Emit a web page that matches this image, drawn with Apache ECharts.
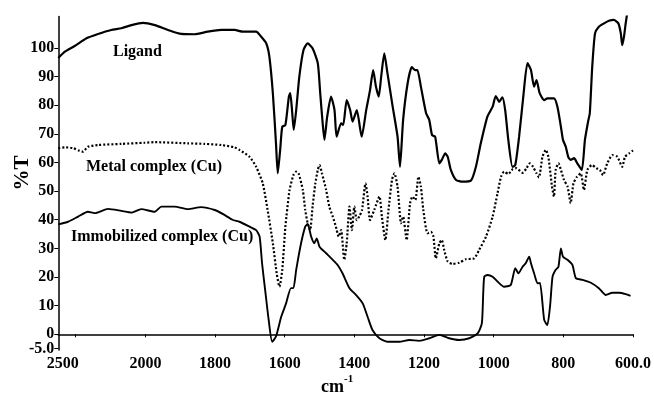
<!DOCTYPE html>
<html><head><meta charset="utf-8">
<script src="https://cdn.jsdelivr.net/npm/echarts@6/dist/echarts.min.js"></script>
<style>html,body{margin:0;padding:0;background:#fff}#c{width:654px;height:399px}</style>
</head><body><div id="c"></div>
<script>
// wavenumber (cm-1, position on the drawn linear scale), %T
const ligand = [[2250,96.5],[2231,98.7],[2203,100.7],[2169,103.4],[2136,104.9],[2098,106.3],[2069,106.9],[2040,108.0],[2007,108.8],[1973,108.0],[1935,106.3],[1897,104.9],[1859,104.8],[1821,105.7],[1782,106.3],[1744,106.3],[1720,105.7],[1682,105.7],[1668,104],[1653,101.6],[1644,97],[1634,84.2],[1625,66.7],[1620,56.2],[1613,64.4],[1607,72.5],[1598,73.1],[1588,83],[1584,84.2],[1579,78.3],[1574,71.4],[1567,78.3],[1558,90],[1546,99.3],[1534,101.6],[1520,99.9],[1505,94.7],[1498,84.2],[1491,73.7],[1486,67.9],[1478,76],[1467,83],[1457,78.3],[1451,69],[1438,73.7],[1432,73.1],[1422,81.8],[1412,78.3],[1405,74.3],[1393,78.3],[1379,69],[1366,78.3],[1355,85.3],[1346,92.3],[1338,86.5],[1330,83],[1323,90],[1314,98.1],[1305,91.2],[1290,79.5],[1276,69],[1269,58.5],[1260,74.9],[1247,87.7],[1235,93.3],[1225,92.3],[1219,92.3],[1209,86.5],[1194,77.2],[1185,74.9],[1177,69.6],[1168,69],[1156,59.7],[1149,60.9],[1139,63.2],[1132,62],[1123,57.4],[1108,53.9],[1089,53.3],[1065,53.7],[1051,58.5],[1037,66.7],[1018,76],[1003,79.5],[994,83.2],[984,81.2],[975,82.8],[967,78.3],[958,67.9],[946,58.5],[938,59.1],[927,69],[915,83],[903,94.7],[893,92.3],[884,86.5],[877,88.8],[868,84.2],[855,81.8],[846,82.4],[827,82.4],[817,79.5],[807,72.5],[801,67.9],[793,65.5],[786,62],[779,60.9],[769,61.5],[760,59.7],[747,57.4],[738,67.9],[728,74.9],[724,77.2],[717,93.5],[709,105.1],[698,107.4],[683,108.6],[669,109.5],[655,109.8],[642,108.6],[635,105.1],[631,101],[626,103.9],[621,108.6],[616,112.7]];

const metalComplex = [[2250,65],[2231,65.3],[2207,65],[2189,64.1],[2179,63.8],[2165,65.5],[2136,66.1],[2069,66.5],[2002,66.9],[1973,67.1],[1878,66.7],[1830,66.5],[1782,66.1],[1744,65.3],[1730,64.4],[1701,62],[1682,58.5],[1663,52.7],[1649,43.4],[1634,31.8],[1623,21.3],[1615,16.6],[1607,22.5],[1598,37.6],[1586,50.4],[1575,55.6],[1567,56.8],[1560,56.2],[1548,50.4],[1541,43.4],[1534,38.8],[1527,36.4],[1520,44.6],[1512,52.7],[1505,57.4],[1500,59.1],[1493,56.2],[1481,50.4],[1472,44.6],[1462,41.1],[1453,37.6],[1445,34.1],[1438,36.4],[1429,26],[1422,31.8],[1414,44.6],[1407,36.4],[1400,44.6],[1393,39.9],[1386,41.1],[1378,43.4],[1368,52.7],[1362,48.1],[1355,39.9],[1343,43.4],[1328,48.1],[1321,41.1],[1311,32.9],[1302,43.4],[1292,53.9],[1285,56.2],[1276,51.6],[1266,38.8],[1260,41.1],[1250,32.9],[1240,45.8],[1233,48.1],[1225,46.9],[1216,55],[1209,51.6],[1202,43.4],[1190,35.3],[1180,35.8],[1173,34.1],[1166,26.5],[1156,31.8],[1149,32.9],[1142,29.4],[1132,25.4],[1118,24.6],[1099,25],[1080,26.2],[1056,26.5],[1042,29.4],[1022,34.1],[1003,41.1],[989,49.2],[979,55],[970,56.8],[958,56],[946,57.6],[935,58],[917,56.4],[906,58],[896,59.7],[887,58.5],[877,56.2],[870,54.8],[860,62],[850,64.4],[843,62],[833,52],[827,48.1],[822,57.4],[814,59.7],[807,57.4],[798,53.9],[788,51.6],[779,45.8],[771,52.7],[761,55],[750,56.2],[741,50.4],[731,57.4],[718,59.1],[705,58],[695,57.4],[686,55.6],[674,59.7],[659,62.6],[645,62],[631,58.5],[623,62],[611,63.2],[600,64.2]];

const immobilized = [[2250,38.4],[2222,39.3],[2193,41.1],[2165,42.8],[2146,42.3],[2107,43.8],[2069,43.1],[2040,42.5],[2012,43.7],[1973,42.8],[1954,44.6],[1916,44.6],[1878,43.7],[1840,44.4],[1801,43.4],[1773,41.7],[1750,40],[1730,39.3],[1701,37.6],[1682,36.4],[1672,34.1],[1665,24.8],[1655,14.3],[1646,5],[1636,-2.6],[1625,-0.8],[1610,6.1],[1596,10.8],[1582,16.1],[1575,16.1],[1567,22.5],[1553,31.8],[1541,37.6],[1534,38.5],[1524,34.1],[1515,31.8],[1508,33.5],[1500,30.6],[1481,28.3],[1462,26],[1448,24.2],[1434,21.3],[1414,16.1],[1395,13.7],[1376,10.8],[1362,6.1],[1348,1.5],[1328,-1.4],[1305,-2.6],[1271,-2.6],[1242,-2],[1214,-2.3],[1185,-1.4],[1156,-0.2],[1128,-1.4],[1099,-2],[1070,-1.4],[1046,0.3],[1034,3.8],[1030,14.3],[1027,20.1],[1018,20.7],[1003,20.1],[989,18.4],[970,16.6],[951,17.2],[938,23.1],[929,21.3],[917,23.6],[908,24.8],[898,27.1],[893,24.8],[884,21.3],[874,17.8],[867,17.9],[855,5],[846,3.2],[838,10],[831,20.1],[822,22.5],[814,23.6],[807,30],[801,27.1],[788,26],[774,24.2],[764,19.6],[745,19],[721,18],[698,16.1],[678,13.7],[659,14.5],[640,14.5],[621,14],[607,13.4]];

const xTickValues = [2200, 2000, 1800, 1600, 1400, 1200, 1000, 800, 600];
const xLabelValues = [2237, 2000, 1800, 1600, 1400, 1200, 1000, 800, 600];
const xLabelTexts  = ['2500', '2000', '1800', '1600', '1400', '1200', '1000', '800', '600.0'];
const yTickValues = [-5, 0, 10, 20, 30, 40, 50, 60, 70, 80, 90, 100];
const yLabelValues = [0, 10, 20, 30, 40, 50, 60, 70, 80, 90, 100];
const yMinLabelValues = [-5];
const yMinLabelTexts = ['-5.0'];

const FONT = '"Liberation Serif", "Times New Roman", serif';
const Y_MIN = -5.5, Y_MAX = 111;
const chart = echarts.init(document.getElementById('c'), null, {renderer: 'canvas'});
const axisText = {color: '#000', fontFamily: FONT, fontWeight: 'bold', fontSize: 16, hideOverlap: false};

chart.setOption({
  animation: false,
  backgroundColor: '#fff',
  grid: {left: 58.3, right: 20, top: 16.5, bottom: 49},
  xAxis: {
    type: 'value', inverse: true, min: 600, max: 2250,
    axisLine: {lineStyle: {color: '#000', width: 1.5}},
    axisTick: {show: true, length: 3, customValues: xTickValues, lineStyle: {color: '#000', width: 1}},
    axisLabel: Object.assign({}, axisText, {
      margin: 6, customValues: xLabelValues, showMinLabel: true, showMaxLabel: true,
      formatter: v => { const i = xLabelValues.indexOf(v); return i >= 0 ? xLabelTexts[i] : ''; }
    }),
    splitLine: {show: false}
  },
  yAxis: [{
    type: 'value', min: Y_MIN, max: Y_MAX, position: 'left',
    axisLine: {show: true, lineStyle: {color: '#000', width: 1.5}},
    axisTick: {show: true, length: 4, customValues: yTickValues, lineStyle: {color: '#000', width: 1}},
    axisLabel: Object.assign({}, axisText, {margin: 4, customValues: yLabelValues, formatter: v => String(v)}),
    splitLine: {show: false}
  }, {
    type: 'value', min: Y_MIN, max: Y_MAX, position: 'left', offset: 0,
    axisLine: {show: false}, axisTick: {show: false}, splitLine: {show: false},
    axisLabel: Object.assign({}, axisText, {
      margin: 4, customValues: yMinLabelValues, showMinLabel: true,
      formatter: v => { const i = yMinLabelValues.indexOf(v); return i >= 0 ? yMinLabelTexts[i] : ''; }
    })
  }],
  series: [
    {name: 'Ligand', type: 'line', data: ligand, symbol: 'none', clip: true, smooth: 0.2,
     lineStyle: {color: '#000', width: 2.2}},
    {name: 'Metal complex (Cu)', type: 'line', data: metalComplex, symbol: 'none', clip: true, smooth: 0.2,
     lineStyle: {color: '#000', width: 2.2, type: [2, 2]}},
    {name: 'Immobilized complex (Cu)', type: 'line', data: immobilized, symbol: 'none', clip: true, smooth: 0.2,
     lineStyle: {color: '#000', width: 1.9}}
  ],
  graphic: [
    {type: 'text', left: 113, top: 44, style: {text: 'Ligand', font: 'bold 16px ' + FONT, fill: '#000'}},
    {type: 'text', left: 86, top: 159, style: {text: 'Metal complex (Cu)', font: 'bold 16px ' + FONT, fill: '#000'}},
    {type: 'text', left: 71, top: 229, style: {text: 'Immobilized complex (Cu)', font: 'bold 16px ' + FONT, fill: '#000'}},
    {type: 'text', x: 12, y: 173, rotation: Math.PI / 2,
     style: {text: '%T', font: 'bold 21px ' + FONT, fill: '#000', align: 'center', verticalAlign: 'top'}},
    {type: 'text', x: 321, y: 374,
     style: {text: '{a|cm}{b|-1}', fill: '#000',
       rich: {a: {fontFamily: FONT, fontWeight: 'bold', fontSize: 18, verticalAlign: 'bottom', lineHeight: 22},
              b: {fontFamily: FONT, fontWeight: 'bold', fontSize: 11, verticalAlign: 'top', lineHeight: 22}}}}
  ]
});
</script></body></html>
